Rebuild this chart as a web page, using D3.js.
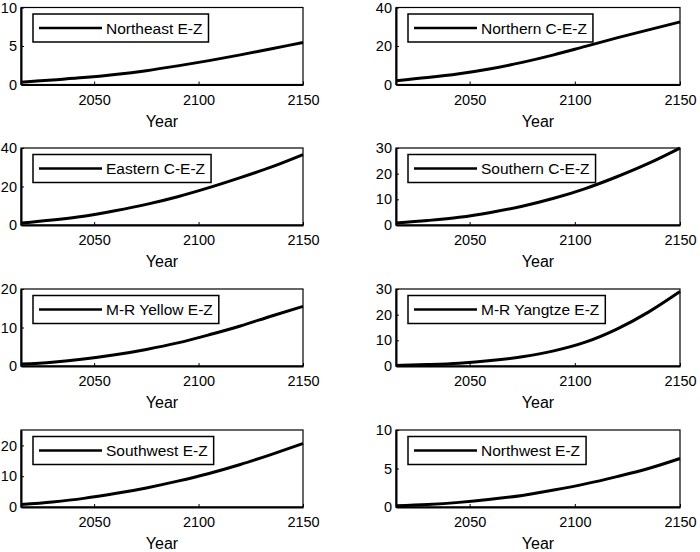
<!DOCTYPE html>
<html>
<head>
<meta charset="utf-8">
<script src="https://cdn.jsdelivr.net/npm/d3@7"></script>
<style>
  body { margin: 0; background: #fff; }
  svg { font-family: "Liberation Sans", Arial, sans-serif; }
  .tick line { stroke: #000; }
  .tick text { font-size: 14.5px; fill: #000; }
</style>
</head>
<body>
<svg id="chart" width="700" height="552"></svg>
<script>
// years sampled along the curves
const years = [2015, 2030, 2045, 2060, 2075, 2090, 2105, 2120, 2135, 2150];

const regionNames = ["Northeast E-Z", "Northern C-E-Z", "Eastern C-E-Z", "Southern C-E-Z",
                     "M-R Yellow E-Z", "M-R Yangtze E-Z", "Southwest E-Z", "Northwest E-Z"];

const northeast = [0.3, 0.6, 0.9, 1.3, 1.8, 2.42, 3.1, 3.85, 4.65, 5.45];
const northern  = [2.0, 3.6, 5.6, 8.2, 11.5, 15.4, 19.8, 24.2, 28.4, 32.5];
const eastern   = [1.0, 2.6, 4.6, 7.4, 10.7, 14.7, 19.4, 24.6, 30.2, 36.6];
const southern  = [0.8, 1.75, 3.0, 4.9, 7.3, 10.4, 14.2, 18.8, 24.0, 30.0];
const yellow    = [0.5, 1.0, 1.8, 2.9, 4.3, 6.0, 8.1, 10.4, 13.0, 15.5];
const yangtze   = [0.2, 0.55, 1.1, 2.1, 3.6, 5.9, 9.3, 14.4, 21.0, 29.0];
const southwest = [0.8, 1.65, 2.8, 4.35, 6.2, 8.4, 10.9, 13.8, 17.1, 20.6];
const northwest = [0.15, 0.32, 0.6, 1.0, 1.5, 2.2, 3.0, 3.95, 5.0, 6.3];

const seriesValues = [northeast, northern, eastern, southern, yellow, yangtze, southwest, northwest];

const yMax = [10, 40, 40, 30, 20, 30, 25, 10];
const yTicks = [[0, 5, 10], [0, 20, 40], [0, 20, 40], [0, 10, 20, 30],
                [0, 10, 20], [0, 10, 20, 30], [0, 10, 20], [0, 5, 10]];
const xTicks = [2050, 2100, 2150];
const xLabel = "Year";

const svg = d3.select("#chart");

// panel geometry
const colLeft = [21, 396];
const colRight = [303, 680];
const rowTop = [7.5, 148, 289, 430];
const plotH = 77;

regionNames.forEach(function (name, i) {
    const col = i % 2;
    const row = Math.floor(i / 2);
    const x0 = colLeft[col], x1 = colRight[col];
    const y0 = rowTop[row], y1 = y0 + plotH;

    const scaleX = d3.scaleLinear().domain([2015, 2150]).range([x0, x1]);
    const scaleY = d3.scaleLinear().domain([0, yMax[i]]).range([y1, y0]);

    const g = svg.append("g");

    // box
    g.append("rect")
        .attr("x", x0).attr("y", y0)
        .attr("width", x1 - x0).attr("height", y1 - y0)
        .attr("fill", "none")
        .attr("stroke", "#000")
        .attr("stroke-width", 1.2);

    // axes, ticks inside
    const axisX = g.append("g")
        .attr("transform", `translate(0, ${y1})`)
        .call(d3.axisBottom(scaleX).tickValues(xTicks).tickSize(-3).tickSizeOuter(0).tickPadding(10).tickFormat(d3.format("d")));
    axisX.select(".domain").attr("stroke", "#000").attr("stroke-width", 2);

    const axisY = g.append("g")
        .attr("transform", `translate(${x0}, 0)`)
        .call(d3.axisLeft(scaleY).tickValues(yTicks[i]).tickSize(-3).tickSizeOuter(0).tickPadding(4));
    axisY.select(".domain").attr("stroke", "#000").attr("stroke-width", 2);

    g.append("text")
        .attr("x", (x0 + x1) / 2)
        .attr("y", y1 + 42)
        .attr("text-anchor", "middle")
        .style("font-size", "16px")
        .text(xLabel);

    // curve
    const line = d3.line()
        .x((d, k) => scaleX(years[k]))
        .y(d => scaleY(d))
        .curve(d3.curveMonotoneX);

    g.append("path")
        .datum(seriesValues[i])
        .attr("d", line)
        .attr("fill", "none")
        .attr("stroke", "#000")
        .attr("stroke-width", 3);

    // legend
    const lx = x0 + 12, ly = y0 + 6.5;
    const leg = g.append("g");
    const txt = leg.append("text")
        .attr("x", lx + 73)
        .attr("y", ly + 19.5)
        .style("font-size", "15.5px")
        .text(name);
    const tw = txt.node().getComputedTextLength();
    leg.insert("rect", "text")
        .attr("x", lx).attr("y", ly)
        .attr("width", 73 + tw + 6).attr("height", 28)
        .attr("fill", "#fff")
        .attr("stroke", "#000")
        .attr("stroke-width", 1.5);
    leg.append("line")
        .attr("x1", lx + 6).attr("x2", lx + 69)
        .attr("y1", ly + 14).attr("y2", ly + 14)
        .attr("stroke", "#000")
        .attr("stroke-width", 2.5);
});
</script>
</body>
</html>
